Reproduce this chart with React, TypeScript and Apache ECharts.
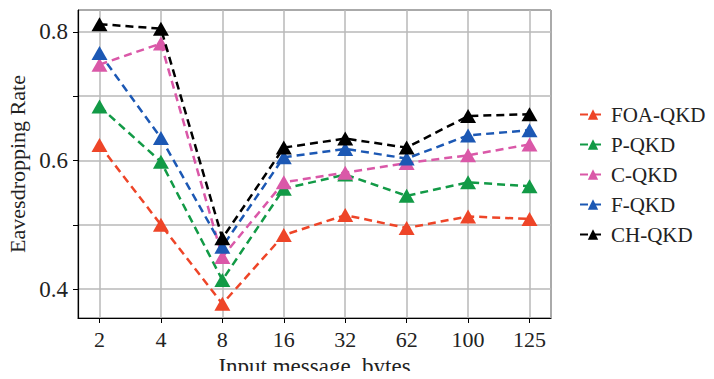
import React, { useEffect, useRef } from "react";
import * as echarts from "echarts";

const categories = ["2", "4", "8", "16", "32", "62", "100", "125"];
const seriesNames = ["FOA-QKD", "P-QKD", "C-QKD", "F-QKD", "CH-QKD"];
const foa = [0.624, 0.5, 0.377, 0.484, 0.515, 0.495, 0.513, 0.509];
const pq = [0.684, 0.598, 0.414, 0.556, 0.578, 0.545, 0.566, 0.56];
const cq = [0.749, 0.782, 0.45, 0.566, 0.581, 0.596, 0.608, 0.625];
const fq = [0.767, 0.635, 0.466, 0.605, 0.618, 0.603, 0.639, 0.647];
const chq = [0.812, 0.805, 0.479, 0.62, 0.634, 0.62, 0.669, 0.672];
const colors = ["#ee4528", "#129a46", "#da58a8", "#1c58b4", "#000000"];
const yLabels = [0.4, 0.6, 0.8];

const FONT = "Liberation Serif";

export default function App() {
  const ref = useRef<HTMLDivElement>(null);
  useEffect(() => {
    if (!ref.current) return;
    const chart = echarts.init(ref.current, undefined, { renderer: "svg" });
    const all = [foa, pq, cq, fq, chq];
    chart.setOption({
      animation: false,
      backgroundColor: "#ffffff",
      grid: {
        left: 78,
        right: 163,
        top: 10,
        bottom: 61,
        show: true,
        borderColor: "#000",
        borderWidth: 1,
        containLabel: false,
        outerBoundsMode: "none",
      },
      legend: {
        orient: "vertical",
        left: 574,
        top: 99,
        itemGap: 9,
        itemWidth: 26,
        itemHeight: 13,
        textStyle: { fontFamily: FONT, fontSize: 21, color: "#222" },
        data: seriesNames,
      },
      xAxis: {
        type: "value",
        min: -0.35,
        max: 7.35,
        splitNumber: 8,
        name: "Input message, bytes",
        nameLocation: "middle",
        nameGap: 36,
        nameTextStyle: { fontFamily: FONT, fontSize: 23, color: "#222" },
        axisLine: { onZero: false, lineStyle: { color: "#000", width: 1.2 } },
        axisTick: { show: true, length: 5, lineStyle: { color: "#000" } },
        axisLabel: {
          fontFamily: FONT,
          fontSize: 22,
          color: "#222",
          margin: 10,
          showMinLabel: false,
          showMaxLabel: false,
          formatter: (v: number) => {
            const i = Math.round(v);
            return Math.abs(v - i) < 1e-6 && categories[i] ? categories[i] : "";
          },
        },
        splitLine: { show: true, lineStyle: { color: "#b8b8b8", width: 1.5 } },
      },
      yAxis: {
        type: "value",
        min: 0.355,
        max: 0.834,
        splitNumber: 5,
        name: "Eavesdropping Rate",
        nameLocation: "middle",
        nameGap: 44,
        nameTextStyle: { fontFamily: FONT, fontSize: 22, color: "#222" },
        axisLine: { show: true, onZero: false, lineStyle: { color: "#000", width: 1.2 } },
        axisTick: { show: true, length: 5, lineStyle: { color: "#000" } },
        axisLabel: {
          fontFamily: FONT,
          fontSize: 23,
          color: "#222",
          margin: 10,
          showMinLabel: false,
          showMaxLabel: false,
          formatter: (v: number) => {
            const hit = yLabels.find((l) => Math.abs(l - v) < 1e-6);
            return hit !== undefined ? hit.toFixed(1) : "";
          },
        },
        splitLine: { show: true, lineStyle: { color: "#b8b8b8", width: 1.5 } },
      },
      series: seriesNames.map((name, k) => ({
        name,
        type: "line",
        data: all[k].map((v, i) => [i, v]),
        symbol: "triangle",
        symbolSize: [16, 14],
        itemStyle: { color: colors[k] },
        lineStyle: { color: colors[k], width: 2.5, type: [8, 5] },
        z: 2 + k,
      })),
    });
    return () => chart.dispose();
  }, []);
  return <div ref={ref} style={{ width: 714, height: 379, margin: -8 }} />;
}
